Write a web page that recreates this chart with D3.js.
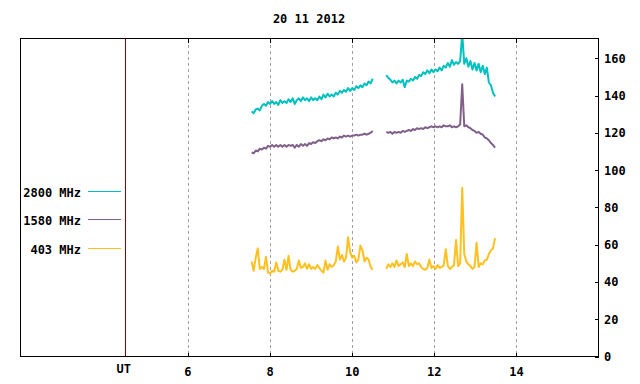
<!DOCTYPE html>
<html><head><meta charset="utf-8">
<script src="https://cdn.jsdelivr.net/npm/d3@7"></script>
<style>
body{margin:0;background:#fff}
svg{display:block}
text{font-family:"DejaVu Sans Mono","Liberation Mono",monospace;font-weight:bold;font-size:12px;fill:#000}
</style></head>
<body><svg id="c" width="640" height="384"></svg>
<script>
// ---- data ----
const title = "20 11 2012";
const xTicks = [6, 8, 10, 12, 14];
const yTicks = [0, 20, 40, 60, 80, 100, 120, 140, 160];
const utMark = 4.46;
const utLabel = "UT";
const xDomain = [1.92, 16];
const yDomain = [0, 170.6];

const seriesNames = ["2800 MHz", "1580 MHz", "403 MHz"];
const seriesColors = ["#00c0c0", "#806088", "#ffc020"];

const seg1Start = 7.55, seg2Start = 10.83, sampleStep = 0.05; // hours UT

const mhz2800_a = [131.5,130.5,132.5,133,132,134.5,135.5,134.5,136.5,135.5,137,135.5,136.5,135,137.5,136,137,136,138,136.5,138.5,135.5,137.5,138.5,137,139,137.5,138.5,137,139,137.5,138.5,137.5,139.5,138,140.5,139,141,139.5,140.5,139.5,141.5,140.5,142.5,141.5,143,142,144,142.5,144,143,145,144,145.5,144.5,146.5,145.5,147.5,146.5,149];
const mhz2800_b = [151,149.5,148.5,147,148,146.5,148,147,148.5,144.5,148,147.5,149,148,150,149,151,150.5,152.5,151.5,153.5,152,154,152.5,154,153,155,153.5,156,155,157.5,155.5,159,156.5,158,157,158.5,173,157,160,155.5,158.5,154,157.5,153.5,157,152.5,156,151.5,155,147,145.5,141.5,139.5];

const mhz1580_a = [109.5,109,110.5,110,111.5,111,112,111.5,113,112.5,113.5,112.5,113.5,112.5,113.5,112.5,113.5,112.5,113.5,113,113.5,112,113.5,112.5,114,113,114,113,114.5,114,115,114.5,115.5,116,115.5,116.5,116,117,116.5,117.5,117,117.5,117,118,117.5,118.5,118,118.5,118,118.5,118.5,119,118.5,119,119,119.5,119,119.5,120,121];
const mhz1580_b = [120.5,120,120.5,119.5,120.5,120,120.5,120,121,120.5,121,121.5,121,122,121.5,122.5,122,122.5,122,123,122.5,123,123.5,123,123.5,123,123.5,123,124,123.5,123.5,124,123,123.5,123,123.5,124.5,146,123.5,124,123,122.5,121.5,121,120,120.5,119.5,119,117.5,117,116,114.5,113.5,112];

const mhz403_a = [51,46,53,58,47,48,47,53.5,45,44.5,46,45.5,50.5,46,45.5,46.5,52,46.5,54,46.5,45.5,46,47,51.5,47.5,48,50,47,49.5,47,48,47,49,47.5,46,45,51.5,46.5,49.5,48,49,51,59,52,54.5,51,53,64,56,53,54,50.5,52,59.5,57,51,53,52,48,46.5];
const mhz403_b = [47,49.5,48,50,48,51.5,48.5,49.5,50.5,48,55,48.5,50,48.5,51,49.5,50,48,47,46.5,47.5,52,47.5,48.5,47,49,47.5,48,49,57.5,48.5,47,48,49,62.5,48.5,50,90.5,55,51,49.5,48.5,47,48,61,48,50,49.5,51.5,52,55,57,58,63.5];

const seriesData = [
  [mhz2800_a, mhz2800_b],
  [mhz1580_a, mhz1580_b],
  [mhz403_a, mhz403_b]
];
const segStarts = [seg1Start, seg2Start];

// ---- layout ----
const svg = d3.select("#c");
const L = 20.5, R = 598.5, T = 38.5, B = 356.5;
const x = d3.scaleLinear().domain(xDomain).range([L, R]);
const y = d3.scaleLinear().domain(yDomain).range([B, T]);
const px = v => Math.round(x(v)) + 0.5;
const py = v => Math.round(y(v)) + 0.5;

svg.append("defs").append("clipPath").attr("id","clip")
  .append("rect").attr("x", L).attr("y", T).attr("width", R-L).attr("height", B-T);

// title
svg.append("text").attr("x", 309).attr("y", 23).attr("text-anchor","middle").text(title);

// grid
svg.append("g").selectAll("line").data(xTicks).join("line")
  .attr("x1", d => px(d)).attr("x2", d => px(d)).attr("y1", T).attr("y2", B)
  .attr("stroke", "#a0a0a0").attr("stroke-dasharray", "3,3").attr("shape-rendering","crispEdges");

// UT marker line
svg.append("line").attr("x1", px(utMark)).attr("x2", px(utMark)).attr("y1", T).attr("y2", B)
  .attr("stroke", "#8b0000").attr("shape-rendering","crispEdges");

// series
const g = svg.append("g").attr("clip-path","url(#clip)");
seriesData.forEach((segs, si) => {
  segs.forEach((vals, k) => {
    const pts = vals.map((v, i) => [segStarts[k] + i * sampleStep, v]);
    const line = d3.line().x(d => x(d[0])).y(d => y(d[1]));
    g.append("path").attr("d", line(pts)).attr("fill","none")
      .attr("stroke", seriesColors[si]).attr("stroke-width", 2)
      .attr("stroke-linejoin","round");
  });
});

// border
svg.append("rect").attr("x", L).attr("y", T).attr("width", R-L).attr("height", B-T)
  .attr("fill","none").attr("stroke","#000").attr("shape-rendering","crispEdges");

// x ticks (inward, top & bottom)
const tk = svg.append("g").attr("stroke","#000").attr("shape-rendering","crispEdges");
xTicks.forEach(d => {
  tk.append("line").attr("x1", px(d)).attr("x2", px(d)).attr("y1", T).attr("y2", T+4);
  tk.append("line").attr("x1", px(d)).attr("x2", px(d)).attr("y1", B).attr("y2", B-4);
});
// y ticks (inward, right)
yTicks.forEach(d => {
  tk.append("line").attr("x1", R).attr("x2", R-4).attr("y1", py(d)).attr("y2", py(d));
});

// x labels
svg.append("g").selectAll("text").data(xTicks).join("text")
  .attr("x", d => x(d)).attr("y", 375.5).attr("text-anchor","middle").text(d => d);
svg.append("text").attr("x", x(utMark) - 1).attr("y", 372.5).attr("text-anchor","middle").text(utLabel);

// y labels
svg.append("g").selectAll("text").data(yTicks).join("text")
  .attr("x", 604).attr("y", d => y(d) + 4.5).text(d => d);

// legend
const legY = [191.5, 219.5, 248.5];
seriesNames.forEach((n, i) => {
  svg.append("text").attr("x", 81).attr("y", legY[i] + 5).attr("text-anchor","end").text(n);
  svg.append("line").attr("x1", 88).attr("x2", 121).attr("y1", legY[i]).attr("y2", legY[i])
    .attr("stroke", seriesColors[i]).attr("shape-rendering","crispEdges");
});
</script></body></html>
